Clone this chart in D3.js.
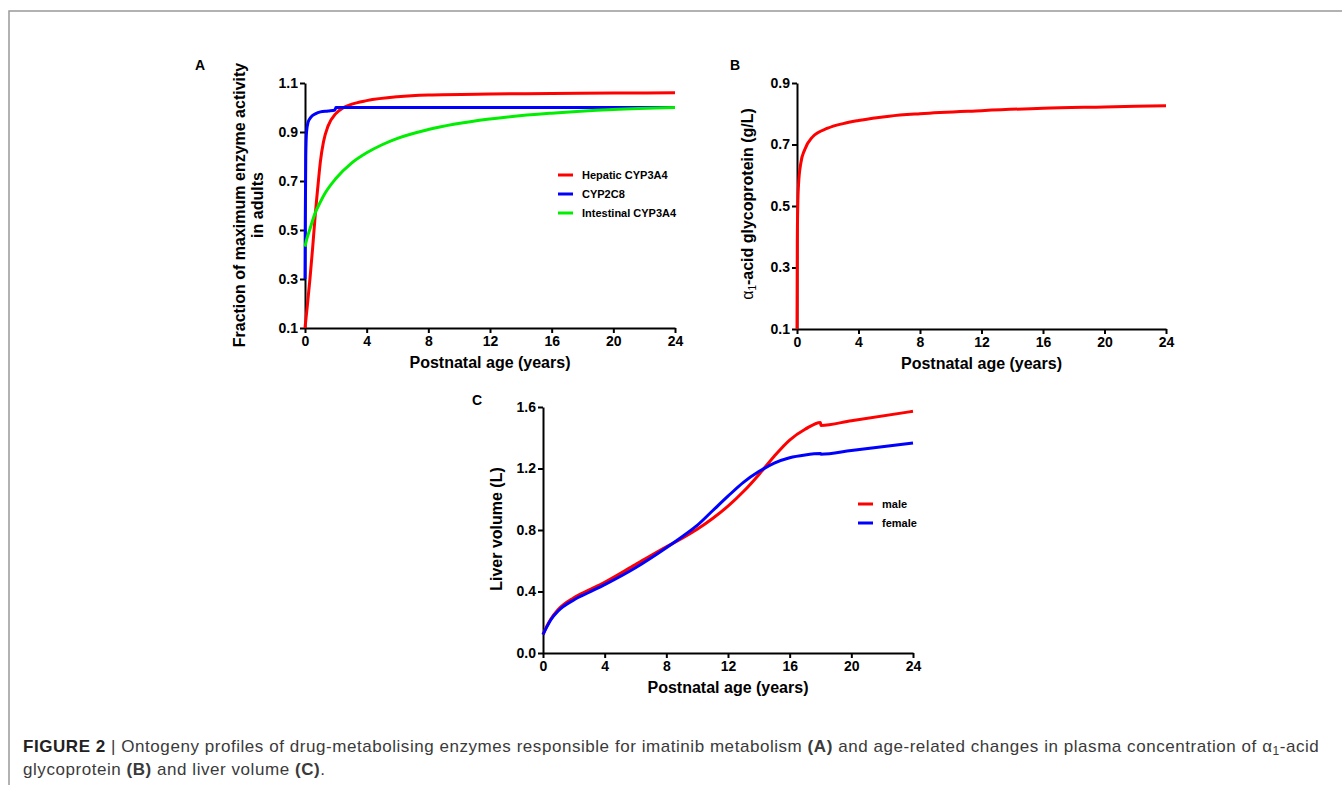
<!DOCTYPE html>
<meta charset="utf-8">
<title>Figure 2 - ontogeny profiles</title>
<style>
body { margin: 0; background: #fff; }
svg { display: block; font-family: "Liberation Sans", Arial, sans-serif; }
.tick text { font-weight: bold; font-size: 14px; fill: #000; }
.axis path, .axis line { stroke: #000; stroke-width: 2px; }
.title { font-weight: bold; font-size: 16px; fill: #000; }
.leg { font-weight: bold; font-size: 11px; fill: #000; }
.caption { font-size: 17px; fill: #3a3a3a; letter-spacing: 0.55px; }
</style>
<script src="https://d3js.org/d3.v7.min.js"></script>
<body>
<script>
var width = 1342, height = 785;

// panel A - enzyme ontogeny
var hepAge = [0, 0.15, 0.32, 0.5, 0.65, 0.87, 1, 1.2, 1.5, 2, 2.5, 3, 4, 6, 8, 12, 16, 20, 24];
var hepVal = [0.1, 0.19, 0.3, 0.43, 0.55, 0.70, 0.78, 0.86, 0.925, 0.975, 1.0, 1.013, 1.028, 1.044, 1.051, 1.055, 1.057, 1.059, 1.06];
var c8Age = [0, 0.02, 0.05, 0.1, 0.2, 0.4, 0.7, 1, 1.5, 1.95, 2.0, 4, 24];
var c8Val = [0.3, 0.55, 0.8, 0.9, 0.94, 0.962, 0.975, 0.982, 0.986, 0.99, 1.0, 1.0, 1.0];
var intAge = [0, 0.1, 0.3, 0.65, 1, 1.3, 2, 3, 4, 5, 6, 8, 12, 16, 20, 24];
var intVal = [0.432, 0.46, 0.50, 0.568, 0.615, 0.65, 0.71, 0.772, 0.815, 0.848, 0.874, 0.91, 0.953, 0.977, 0.992, 1.0];

// panel B - alpha1-acid glycoprotein
var agpAge = [0, 0.02, 0.05, 0.1, 0.25, 0.5, 1, 2, 3, 4, 6, 8, 12, 16, 20, 24];
var agpVal = [0.1, 0.38, 0.5, 0.57, 0.64, 0.683, 0.724, 0.753, 0.768, 0.778, 0.792, 0.80, 0.81, 0.818, 0.822, 0.826];

// panel C - liver volume
var livAge = [0, 0.25, 0.5, 1, 2, 3, 4, 6, 8, 9, 10, 11, 12, 13, 14, 15, 16, 17, 18, 18.02, 20, 24];
var maleVal = [0.12, 0.175, 0.22, 0.285, 0.36, 0.41, 0.46, 0.575, 0.69, 0.745, 0.805, 0.875, 0.955, 1.05, 1.16, 1.28, 1.385, 1.455, 1.50, 1.48, 1.511, 1.572];
var femaleVal = [0.12, 0.17, 0.215, 0.275, 0.345, 0.395, 0.445, 0.555, 0.685, 0.755, 0.83, 0.925, 1.02, 1.11, 1.18, 1.235, 1.27, 1.288, 1.297, 1.293, 1.317, 1.366];

var xTicks = [0, 4, 8, 12, 16, 20, 24];
var yTicksA = [0.1, 0.3, 0.5, 0.7, 0.9, 1.1];
var yTicksB = [0.1, 0.3, 0.5, 0.7, 0.9];
var yTicksC = [0.0, 0.4, 0.8, 1.2, 1.6];

var svg = d3.select("body").append("svg")
    .attr("width", width)
    .attr("height", height);

// frame lines
svg.append("path")
    .attr("d", "M9,785V11H1342")
    .attr("fill", "none")
    .attr("stroke", "#999")
    .attr("stroke-width", 1.5);

function zip(a, b) { return a.map(function(d, i) { return [d, b[i]]; }); }

function panel(opt) {
  var x = d3.scaleLinear().domain([0, 24]).range([opt.x0, opt.x1]);
  var y = d3.scaleLinear().domain(opt.ydom).range([opt.y0, opt.y1]);
  var g = svg.append("g");

  g.append("g").attr("class", "axis")
      .attr("transform", "translate(0," + opt.y0 + ")")
      .call(d3.axisBottom(x).tickValues(xTicks).tickSize(5).tickSizeOuter(0).tickPadding(3));
  g.append("g").attr("class", "axis")
      .attr("transform", "translate(" + opt.x0 + ",0)")
      .call(d3.axisLeft(y).tickValues(opt.yticks).tickFormat(d3.format(".1f")).tickSize(5).tickSizeOuter(0).tickPadding(2));
  g.selectAll(".domain").attr("stroke-width", 2.5);

  var line = d3.line()
      .x(function(d) { return x(d[0]); })
      .y(function(d) { return y(d[1]); })
      .curve(d3.curveMonotoneX);

  opt.series.forEach(function(s) {
    g.append("path")
        .datum(zip(s.age, s.val))
        .attr("fill", "none")
        .attr("stroke", s.color)
        .attr("stroke-width", 3)
        .attr("d", line);
  });

  g.append("text").attr("class", "title")
      .attr("x", (opt.x0 + opt.x1) / 2)
      .attr("y", opt.y0 + 40)
      .attr("text-anchor", "middle")
      .text("Postnatal age (years)");

  g.append("text").attr("class", "title")
      .attr("x", opt.labX).attr("y", opt.labY)
      .style("font-size", "14px")
      .text(opt.label);

  if (opt.legend) {
    var lg = g.append("g");
    opt.series.forEach(function(s, i) {
      var ly = opt.legend.y + i * opt.legend.dy;
      lg.append("line")
          .attr("x1", opt.legend.x).attr("x2", opt.legend.x + 15)
          .attr("y1", ly).attr("y2", ly)
          .attr("stroke", s.color).attr("stroke-width", 3);
      lg.append("text").attr("class", "leg")
          .attr("x", opt.legend.x + 24).attr("y", ly + 4)
          .text(s.name);
    });
  }
  return g;
}

var gA = panel({
  x0: 305, x1: 675, y0: 328, y1: 83, ydom: [0.1, 1.1], yticks: yTicksA,
  label: "A", labX: 195, labY: 70,
  series: [
    {name: "Hepatic CYP3A4", age: hepAge, val: hepVal, color: "#ff0000"},
    {name: "CYP2C8", age: c8Age, val: c8Val, color: "#0000ff"},
    {name: "Intestinal CYP3A4", age: intAge, val: intVal, color: "#00ee00"}
  ],
  legend: {x: 558, y: 175, dy: 19}
});
gA.append("text").attr("class", "title")
    .attr("transform", "translate(245,205) rotate(-90)")
    .attr("text-anchor", "middle")
    .text("Fraction of maximum enzyme activity");
gA.append("text").attr("class", "title")
    .attr("transform", "translate(263,205) rotate(-90)")
    .attr("text-anchor", "middle")
    .text("in adults");

var gB = panel({
  x0: 797, x1: 1166, y0: 329, y1: 83, ydom: [0.1, 0.9], yticks: yTicksB,
  label: "B", labX: 730, labY: 70,
  series: [{name: "AGP", age: agpAge, val: agpVal, color: "#ff0000"}]
});
var tB = gB.append("text").attr("class", "title")
    .attr("transform", "translate(753,204) rotate(-90)")
    .attr("text-anchor", "middle");
tB.append("tspan").style("font-weight", "normal").text("α");
tB.append("tspan").style("font-weight", "normal").style("font-size", "10px").attr("dy", 3).text("1");
tB.append("tspan").attr("dy", -3).text("-acid glycoprotein (g/L)");

var gC = panel({
  x0: 543, x1: 913, y0: 653, y1: 407, ydom: [0, 1.6], yticks: yTicksC,
  label: "C", labX: 472, labY: 405,
  series: [
    {name: "male", age: livAge, val: maleVal, color: "#ff0000"},
    {name: "female", age: livAge, val: femaleVal, color: "#0000ff"}
  ],
  legend: {x: 858, y: 504, dy: 19}
});
gC.append("text").attr("class", "title")
    .attr("transform", "translate(502,529) rotate(-90)")
    .attr("text-anchor", "middle")
    .text("Liver volume (L)");

// caption
var c1 = svg.append("text").attr("class", "caption").attr("x", 23).attr("y", 752);
c1.append("tspan").style("font-weight", "bold").style("fill", "#222").text("FIGURE 2 ");
c1.append("tspan").text("| Ontogeny profiles of drug-metabolising enzymes responsible for imatinib metabolism ");
c1.append("tspan").style("font-weight", "bold").text("(A)");
c1.append("tspan").text(" and age-related changes in plasma concentration of α");
c1.append("tspan").style("font-size", "12px").attr("dy", 3).text("1");
c1.append("tspan").attr("dy", -3).text("-acid");

var c2 = svg.append("text").attr("class", "caption").attr("x", 23).attr("y", 775);
c2.append("tspan").text("glycoprotein ");
c2.append("tspan").style("font-weight", "bold").text("(B)");
c2.append("tspan").text(" and liver volume ");
c2.append("tspan").style("font-weight", "bold").text("(C)");
c2.append("tspan").text(".");
</script>
